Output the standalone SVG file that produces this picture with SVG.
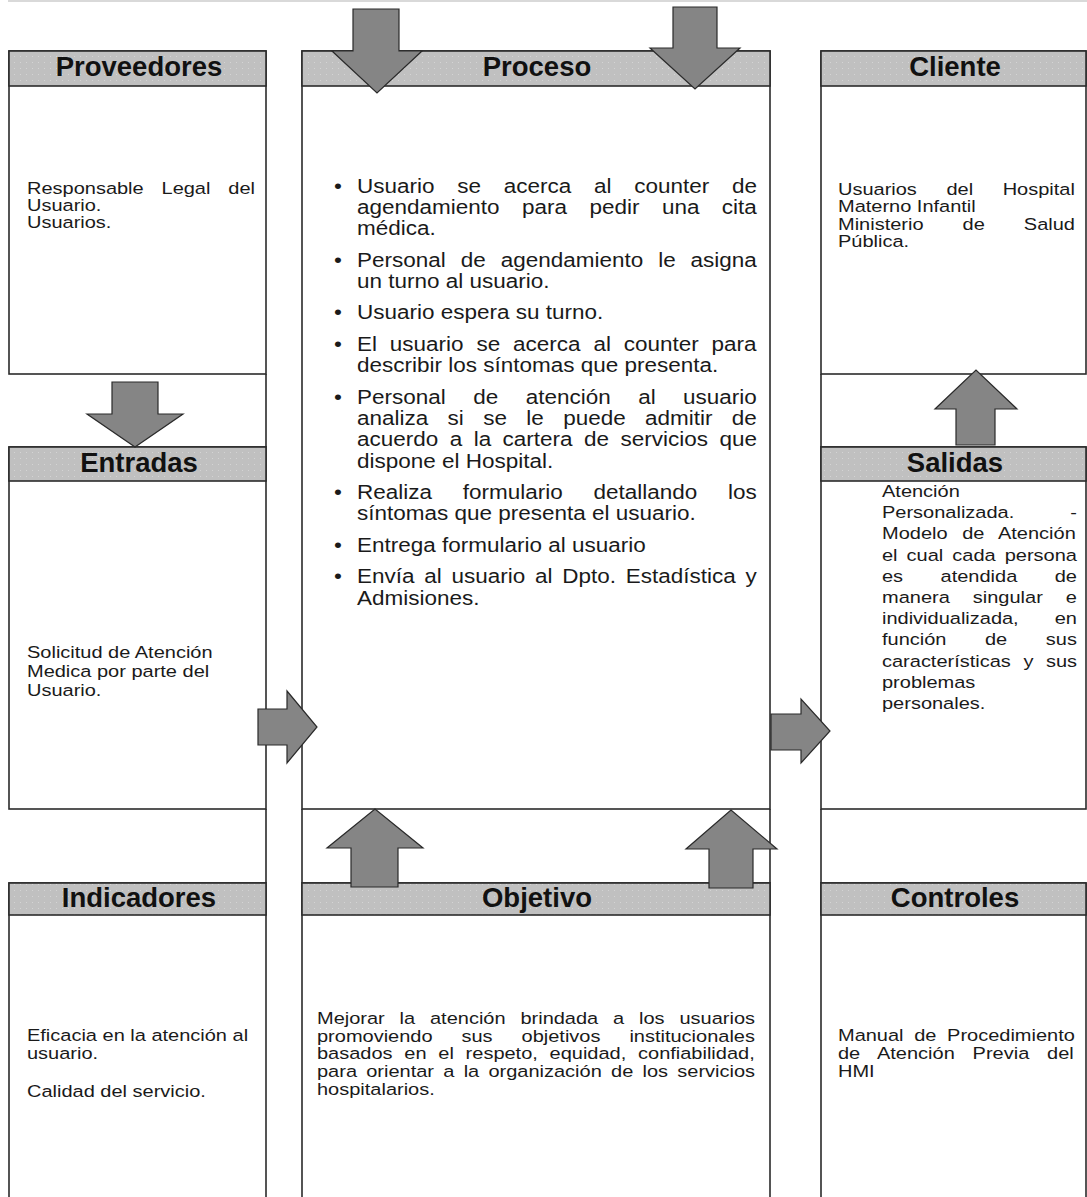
<svg xmlns="http://www.w3.org/2000/svg" width="1087" height="1197" viewBox="0 0 1087 1197">
  <defs>
    <pattern id="dots" width="6" height="6" patternUnits="userSpaceOnUse">
      <rect width="6" height="6" fill="#c0c0c0"/>
      <rect x="2" y="2" width="1" height="1" fill="#d4d4d4"/>
    </pattern>
    <style>
      .box { fill: #ffffff; stroke: #2b2b2b; stroke-width: 1.6; }
      .hdr { fill: url(#dots); stroke: #2b2b2b; stroke-width: 1.6; }
      .seg { stroke: #2b2b2b; stroke-width: 1.6; fill: none; }
      .ttl { font-family: "Liberation Sans", Arial, sans-serif; font-weight: bold; font-size: 27.5px; fill: #111111; text-anchor: middle; }
      .txt { font-family: "Liberation Sans", Arial, sans-serif; font-size: 20px; fill: #1a1a1a; }
      .big { font-family: "Liberation Sans", Arial, sans-serif; font-size: 22.5px; fill: #1a1a1a; }
      .arw { fill: #858585; stroke: #2a2a2a; stroke-width: 1.2; stroke-linejoin: miter; }
    </style>
  </defs>

  <rect width="1087" height="1197" fill="#ffffff"/>
  <line x1="8" y1="1" x2="1087" y2="1" stroke="#d9d9d9" stroke-width="2"/>

  <!-- frame pieces that run through the gaps between stacked boxes -->
  <g id="frame">
    <path class="seg" d="M266,374 V447 M266,809 V883 M302,809 V883 M770,809 V883 M821,374 V447 M821,809 V883"/>
  </g>

  <!-- body text is set in vertically condensed lines: translate to the first baseline, then scale y -->
  <g id="proveedores">
    <rect class="box" x="9" y="51" width="257" height="323"/>
    <rect class="hdr" x="9" y="51" width="257" height="35"/>
    <text class="ttl" x="139" y="76">Proveedores</text>
    <g class="txt" transform="translate(0,193.5) scale(1,0.86)">
      <text x="27" y="0" style="word-spacing:12.3px">Responsable Legal del</text>
      <text x="27" y="20.35">Usuario.</text>
      <text x="27" y="40.7">Usuarios.</text>
    </g>
  </g>

  <g id="entradas">
    <rect class="box" x="9" y="447" width="257" height="362"/>
    <rect class="hdr" x="9" y="447" width="257" height="34"/>
    <text class="ttl" x="139" y="472">Entradas</text>
    <g class="txt" transform="translate(0,658) scale(1,0.86)">
      <text x="27" y="0">Solicitud de Atención</text>
      <text x="27" y="22.09">Medica por parte del</text>
      <text x="27" y="44.19">Usuario.</text>
    </g>
  </g>

  <g id="indicadores">
    <rect class="box" x="9" y="883" width="257" height="330"/>
    <rect class="hdr" x="9" y="883" width="257" height="32"/>
    <text class="ttl" x="139" y="907">Indicadores</text>
    <g class="txt" transform="translate(0,1041) scale(1,0.86)">
      <text x="27" y="0">Eficacia en la atención al</text>
      <text x="27" y="20.93">usuario.</text>
      <text x="27" y="65.12">Calidad del servicio.</text>
    </g>
  </g>

  <g id="proceso">
    <rect class="box" x="302" y="51" width="468" height="758"/>
    <rect class="hdr" x="302" y="51" width="468" height="35"/>
    <text class="ttl" x="537" y="76">Proceso</text>
    <g class="big" transform="translate(0,192.5) scale(1,0.87)">
      <text x="334" y="0">•</text>
      <text x="357" y="0" style="word-spacing:16.5px">Usuario se acerca al counter de</text>
      <text x="357" y="24.48" style="word-spacing:16.2px">agendamiento para pedir una cita</text>
      <text x="357" y="48.97">médica.</text>
      <text x="334" y="85.17">•</text>
      <text x="357" y="85.17" style="word-spacing:8.7px">Personal de agendamiento le asigna</text>
      <text x="357" y="109.66">un turno al usuario.</text>
      <text x="334" y="145.86">•</text>
      <text x="357" y="145.86">Usuario espera su turno.</text>
      <text x="334" y="182.07">•</text>
      <text x="357" y="182.07" style="word-spacing:6.6px">El usuario se acerca al counter para</text>
      <text x="357" y="206.55">describir los síntomas que presenta.</text>
      <text x="334" y="242.76">•</text>
      <text x="357" y="242.76" style="word-spacing:21.2px">Personal de atención al usuario</text>
      <text x="357" y="267.24" style="word-spacing:13.1px">analiza si se le puede admitir de</text>
      <text x="357" y="291.72" style="word-spacing:5.2px">acuerdo a la cartera de servicios que</text>
      <text x="357" y="316.21">dispone el Hospital.</text>
      <text x="334" y="352.41">•</text>
      <text x="357" y="352.41" style="word-spacing:24.5px">Realiza formulario detallando los</text>
      <text x="357" y="376.9">síntomas que presenta el usuario.</text>
      <text x="334" y="413.1">•</text>
      <text x="357" y="413.1">Entrega formulario al usuario</text>
      <text x="334" y="449.31">•</text>
      <text x="357" y="449.31" style="word-spacing:3.5px">Envía al usuario al Dpto. Estadística y</text>
      <text x="357" y="473.79">Admisiones.</text>
    </g>
  </g>

  <g id="objetivo">
    <rect class="box" x="302" y="883" width="468" height="330"/>
    <rect class="hdr" x="302" y="883" width="468" height="32"/>
    <text class="ttl" x="537" y="907">Objetivo</text>
    <g class="txt" transform="translate(0,1024) scale(1,0.86)">
      <text x="317" y="0" style="word-spacing:9.3px">Mejorar la atención brindada a los usuarios</text>
      <text x="317" y="20.64" style="word-spacing:23.4px">promoviendo sus objetivos institucionales</text>
      <text x="317" y="41.28" style="word-spacing:6.2px">basados en el respeto, equidad, confiabilidad,</text>
      <text x="317" y="61.92" style="word-spacing:3.7px">para orientar a la organización de los servicios</text>
      <text x="317" y="82.56">hospitalarios.</text>
    </g>
  </g>

  <g id="cliente">
    <rect class="box" x="821" y="51" width="265" height="323"/>
    <rect class="hdr" x="821" y="51" width="265" height="35"/>
    <text class="ttl" x="955" y="76">Cliente</text>
    <g class="txt" transform="translate(0,195) scale(1,0.86)">
      <text x="838" y="0" style="word-spacing:24px">Usuarios del Hospital</text>
      <text x="838" y="20.12">Materno Infantil</text>
      <text x="838" y="40.23" style="word-spacing:33.5px">Ministerio de Salud</text>
      <text x="838" y="60.35">Pública.</text>
    </g>
  </g>

  <g id="salidas">
    <rect class="box" x="821" y="447" width="265" height="362"/>
    <rect class="hdr" x="821" y="447" width="265" height="34"/>
    <text class="ttl" x="955" y="472">Salidas</text>
    <g class="txt" transform="translate(0,497) scale(1,0.86)">
      <text x="882" y="0">Atención</text>
      <text x="882" y="24.65" style="word-spacing:50.5px">Personalizada. -</text>
      <text x="882" y="49.3" style="word-spacing:9.1px">Modelo de Atención</text>
      <text x="882" y="73.95" style="word-spacing:3.5px">el cual cada persona</text>
      <text x="882" y="98.6" style="word-spacing:31.9px">es atendida de</text>
      <text x="882" y="123.26" style="word-spacing:17.5px">manera singular e</text>
      <text x="882" y="147.91" style="word-spacing:30.5px">individualizada, en</text>
      <text x="882" y="172.56" style="word-spacing:33px">función de sus</text>
      <text x="882" y="197.21" style="word-spacing:7px">características y sus</text>
      <text x="882" y="221.86">problemas</text>
      <text x="882" y="246.51">personales.</text>
    </g>
  </g>

  <g id="controles">
    <rect class="box" x="821" y="883" width="265" height="330"/>
    <rect class="hdr" x="821" y="883" width="265" height="32"/>
    <text class="ttl" x="955" y="907">Controles</text>
    <g class="txt" transform="translate(0,1041) scale(1,0.86)">
      <text x="838" y="0" style="word-spacing:5.1px">Manual de Procedimiento</text>
      <text x="838" y="20.93" style="word-spacing:12.3px">de Atención Previa del</text>
      <text x="838" y="41.86">HMI</text>
    </g>
  </g>

  <!-- block arrows between the boxes -->
  <g id="connectors">
    <polygon class="arw" points="353,9 399,9 399,51 422,51 377,93 332,51 353,51"/>
    <polygon class="arw" points="673,7 717,7 717,48 740,48 695,89 650,48 673,48"/>
    <polygon class="arw" points="112,382 158,382 158,414 183,414 135,447 87,414 112,414"/>
    <polygon class="arw" points="956,445 995,445 995,409 1017,409 976,370 935,409 956,409"/>
    <polygon class="arw" points="258,709 287,709 287,691 317,727 287,763 287,745 258,745"/>
    <polygon class="arw" points="771,714 801,714 801,699 830,731 801,763 801,750 771,750"/>
    <polygon class="arw" points="351,887 398,887 398,848 423,848 375,809 327,848 351,848"/>
    <polygon class="arw" points="709,888 753,888 753,849 777,849 731,810 686,849 709,849"/>
  </g>
</svg>
